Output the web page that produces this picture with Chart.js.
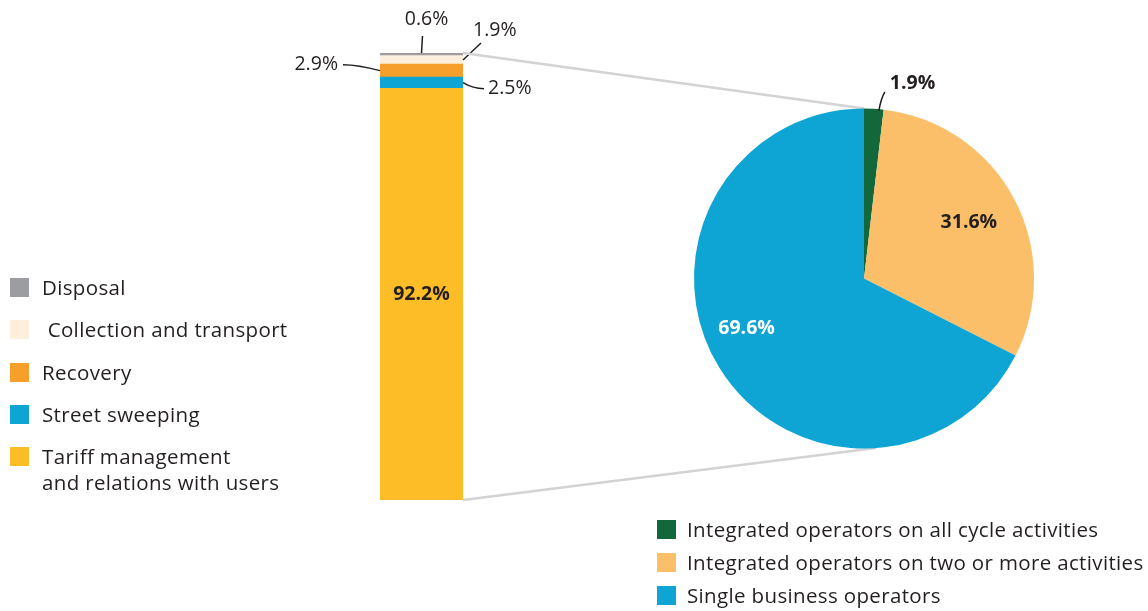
<!DOCTYPE html>
<html>
<head>
<meta charset="utf-8">
<script src="https://cdn.jsdelivr.net/npm/chart.js@4.4.1/dist/chart.umd.min.js"></script>
<style>
  body { margin: 0; background: #fff; font-family: "Open Sans", sans-serif; color: #231f20; }
  #wrap { position: relative; width: 1148px; height: 611px; overflow: hidden; }
  canvas { position: absolute; left: 0; top: 0; }
  .item { position: absolute; font-size: 20.5px; letter-spacing: 0.35px; line-height: 26px; white-space: pre; }
  .item span.box { position: absolute; width: 19px; height: 19px; }
</style>
</head>
<body>
<div id="wrap">
  <canvas id="bar" width="1148" height="611"></canvas>
  <canvas id="pie" width="1148" height="611"></canvas>
</div>
<script>
// stacked bar, top to bottom as in the legend
const costLabels = ['Disposal', ' Collection and transport', 'Recovery', 'Street sweeping', 'Tariff management\nand relations with users'];
const costValues = [0.6, 1.9, 2.9, 2.5, 92.2];
const costColors = ['#9b9da0', '#fdefdb', '#f69f2b', '#0ea5d5', '#fdbd26'];

// pie
const operatorLabels = ['Integrated operators on all cycle activities', 'Integrated operators on two or more activities', 'Single business operators'];
const operatorValues = [1.9, 31.6, 69.6];
const operatorColors = ['#12683b', '#fbbe69', '#0ea5d5'];

const txt = '#231f20';
const font = '"Open Sans", sans-serif';

// html legends
const wrap = document.getElementById('wrap');
costLabels.forEach((l, i) => {
  const d = document.createElement('div');
  d.className = 'item';
  d.style.left = '42px';
  d.style.top = (274 + i * 42.3) + 'px';
  d.textContent = l;
  const b = document.createElement('span');
  b.className = 'box';
  b.style.background = costColors[i];
  b.style.left = '-32px';
  b.style.top = '4px';
  d.appendChild(b);
  wrap.appendChild(d);
});
operatorLabels.forEach((l, i) => {
  const d = document.createElement('div');
  d.className = 'item';
  d.style.left = '687px';
  d.style.top = (516 + i * 33) + 'px';
  d.textContent = l;
  const b = document.createElement('span');
  b.className = 'box';
  b.style.background = operatorColors[i];
  b.style.left = '-30px';
  b.style.top = '4px';
  d.appendChild(b);
  wrap.appendChild(d);
});

// bar value labels with leader lines
const barLabelsPlugin = {
  id: 'barLabels',
  afterDatasetsDraw(chart) {
    const ctx = chart.ctx;
    const el = name => chart.getDatasetMeta(chart.data.datasets.findIndex(d => d.label === name)).data[0];
    ctx.save();
    ctx.strokeStyle = txt;
    ctx.lineWidth = 1.5;
    ctx.fillStyle = txt;
    ctx.font = '19.5px ' + font;
    ctx.textBaseline = 'middle';

    // disposal
    let e = el(costLabels[0]);
    ctx.beginPath(); ctx.moveTo(e.x, e.y); ctx.lineTo(e.x + 1, e.y - 17); ctx.stroke();
    ctx.textAlign = 'center';
    ctx.fillText(costValues[0].toFixed(1) + '%', e.x + 5, e.y - 34);

    // collection
    e = el(costLabels[1]);
    let m = (e.y + e.base) / 2, r = e.x + e.width / 2;
    ctx.beginPath(); ctx.moveTo(r, m); ctx.lineTo(r + 18, m - 17); ctx.stroke();
    ctx.textAlign = 'left';
    ctx.fillText(costValues[1].toFixed(1) + '%', r + 10, m - 29);

    // recovery
    e = el(costLabels[2]);
    m = (e.y + e.base) / 2;
    let lft = e.x - e.width / 2;
    ctx.beginPath(); ctx.moveTo(lft, m); ctx.quadraticCurveTo(lft - 22, m - 6, lft - 37, m - 6); ctx.stroke();
    ctx.textAlign = 'right';
    ctx.fillText(costValues[2].toFixed(1) + '%', lft - 42, m - 6);

    // street sweeping
    e = el(costLabels[3]);
    m = (e.y + e.base) / 2; r = e.x + e.width / 2;
    ctx.beginPath(); ctx.moveTo(r, m); ctx.quadraticCurveTo(r + 10, m + 6, r + 21, m + 6); ctx.stroke();
    ctx.textAlign = 'left';
    ctx.fillText(costValues[3].toFixed(1) + '%', r + 25, m + 6);

    // tariff
    e = el(costLabels[4]);
    ctx.font = 'bold 19.5px ' + font;
    ctx.textAlign = 'center';
    ctx.fillText(costValues[4].toFixed(1) + '%', e.x, (e.y + e.base) / 2);
    ctx.restore();
  }
};

const barChart = new Chart(document.getElementById('bar'), {
  type: 'bar',
  data: {
    labels: [''],
    datasets: costLabels.map((l, i) => ({
      label: l,
      data: [costValues[i]],
      backgroundColor: costColors[i],
      borderWidth: 0,
      barPercentage: 1,
      categoryPercentage: 1
    })).reverse()
  },
  options: {
    responsive: false,
    animation: false,
    layout: { padding: { left: 380, right: 685, top: 53, bottom: 111 } },
    plugins: { legend: { display: false }, tooltip: { enabled: false } },
    scales: {
      x: { stacked: true, display: false },
      y: { stacked: true, display: false, min: 0, max: 100.1 }
    }
  },
  plugins: [barLabelsPlugin]
});

// connector lines from bar to pie + pie labels
const piePlugin = {
  id: 'pieExtras',
  beforeDatasetsDraw(chart) {
    const arc = chart.getDatasetMeta(0).data[0];
    const top = barChart.getDatasetMeta(4).data[0];
    const bottom = barChart.getDatasetMeta(0).data[0];
    const ctx = chart.ctx;
    const a = 176 * Math.PI / 180;
    ctx.save();
    ctx.strokeStyle = '#d3d3d3';
    ctx.lineWidth = 2.5;
    ctx.beginPath();
    ctx.moveTo(top.x + top.width / 2, top.y);
    ctx.lineTo(arc.x, arc.y - arc.outerRadius);
    ctx.moveTo(bottom.x + bottom.width / 2, bottom.base);
    ctx.lineTo(arc.x + arc.outerRadius * Math.sin(a), arc.y - arc.outerRadius * Math.cos(a));
    ctx.stroke();
    ctx.restore();
  },
  afterDatasetsDraw(chart) {
    const ctx = chart.ctx;
    const arcs = chart.getDatasetMeta(0).data;
    ctx.save();
    ctx.font = 'bold 19.5px ' + font;
    ctx.textBaseline = 'middle';
    arcs.forEach((arc, i) => {
      const mid = (arc.startAngle + arc.endAngle) / 2;
      const lbl = operatorValues[i].toFixed(1) + '%';
      if (i === 0) {
        const px = arc.x + arc.outerRadius * Math.cos(mid) + 5;
        const py = arc.y + arc.outerRadius * Math.sin(mid) + 2;
        ctx.strokeStyle = txt;
        ctx.lineWidth = 1.5;
        ctx.beginPath();
        ctx.moveTo(px, py);
        ctx.quadraticCurveTo(px + 2, py - 12, px + 6, py - 19);
        ctx.stroke();
        ctx.fillStyle = txt;
        ctx.textAlign = 'left';
        ctx.fillText(lbl, px + 11, py - 27);
      } else {
        // the large slice's label sits a little lower than its mid angle
        const ang = i === 1 ? mid : mid + 0.15;
        const k = i === 1 ? 0.7 : 0.75;
        ctx.fillStyle = i === 1 ? txt : '#ffffff';
        ctx.textAlign = 'center';
        ctx.fillText(lbl, arc.x + arc.outerRadius * k * Math.cos(ang), arc.y + arc.outerRadius * k * Math.sin(ang));
      }
    });
    ctx.restore();
  }
};

new Chart(document.getElementById('pie'), {
  type: 'pie',
  data: {
    labels: operatorLabels,
    datasets: [{
      data: operatorValues,
      backgroundColor: operatorColors,
      borderWidth: 0
    }]
  },
  options: {
    responsive: false,
    animation: false,
    layout: { padding: { left: 694, right: 114, top: 108, bottom: 162 } },
    plugins: { legend: { display: false }, tooltip: { enabled: false } }
  },
  plugins: [piePlugin]
});
</script>
</body>
</html>
